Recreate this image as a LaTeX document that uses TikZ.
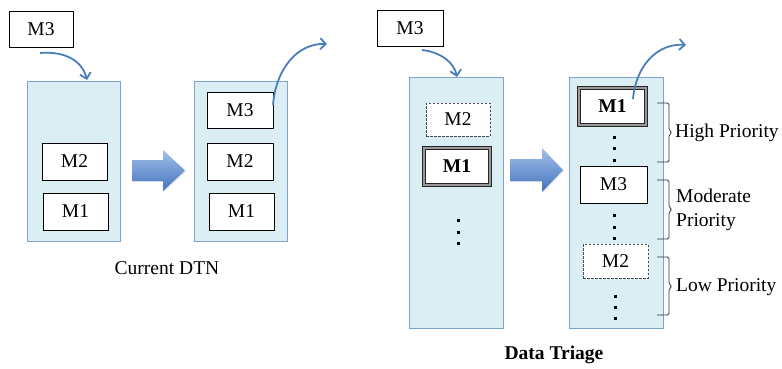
\documentclass[tikz,border=0pt]{standalone}
\usepackage{fontspec}
\setmainfont{Liberation Serif}
\usetikzlibrary{arrows.meta,shadows}
\definecolor{boxfill}{HTML}{DAEEF3}
\definecolor{boxline}{HTML}{7EA3CC}
\definecolor{arrowblue}{HTML}{4A7EBB}
\definecolor{bluetop}{HTML}{A3C1EA}
\definecolor{bluebot}{HTML}{4373BE}
\tikzset{
  every node/.style={font=\fontsize{19.5}{23}\selectfont},
  container/.style={draw=boxline, fill=boxfill, line width=0.8pt, inner sep=0pt,
    drop shadow={shadow xshift=1.2pt, shadow yshift=-1.2pt, opacity=0.25}},
  msg/.style={draw=black, fill=white, line width=0.7pt, inner sep=0pt},
  msgdash/.style={msg, draw=black!70, dashed, dash pattern=on 2.5pt off 1.5pt},
  msgbold/.style={msg, draw=black!85, line width=0.8pt, double=black!40, double distance=1.6pt, font=\fontsize{19.5}{23}\selectfont\bfseries},
  curvearrow/.style={draw=arrowblue, line width=1.8pt, -{Straight Barb[length=5.5pt,width=11pt]}},
  blockarrow/.style={top color=bluetop, bottom color=bluebot, draw=none,
    drop shadow={shadow xshift=1pt, shadow yshift=-1pt, opacity=0.2}},
  bracket/.style={draw=black!80, line width=0.8pt, rounded corners=1.5pt},
  dot/.style={fill=black}
}
\begin{document}
\begin{tikzpicture}[x=1pt,y=-1pt]
\useasboundingbox (0,0) rectangle (782,369);
% ---------- Current DTN ----------
\node[msg, minimum width=64pt, minimum height=36pt] (m3a) at (41,29) {M3};
\node[container, minimum width=93pt, minimum height=160pt] (c1) at (73.5,161) {};
\node[msg, minimum width=65pt, minimum height=37pt] (c1m2) at (74.5,161.5) {M2};
\node[msg, minimum width=65pt, minimum height=37pt] (c1m1) at (75.5,211.5) {M1};
\path[blockarrow] (132,160) -- (163,160) -- (163,150) -- (185,170.5) -- (163,191) -- (163,181) -- (132,181) -- cycle;
\node[container, minimum width=93pt, minimum height=160pt] (c2) at (240.5,161) {};
\node[msg, minimum width=66pt, minimum height=36pt] (c2m3) at (240,110) {M3};
\node[msg, minimum width=66pt, minimum height=37pt] (c2m2) at (240,161.5) {M2};
\node[msg, minimum width=65pt, minimum height=37pt] (c2m1) at (241.5,211.5) {M1};
\node (lab1) at (167,268) {Current DTN};
\coordinate (a1s) at (40,53);
\coordinate (a1e) at (87,80);
\draw[curvearrow] (a1s) .. controls (64,51) and (82,60) .. (a1e);
\coordinate (a2s) at (273,105);
\coordinate (a2e) at (327,44);
\draw[curvearrow] (a2s) .. controls (276,68) and (298,43) .. (a2e);
% ---------- Data Triage ----------
\node[msg, minimum width=66pt, minimum height=36pt] (m3b) at (410,28) {M3};
\node[container, minimum width=94pt, minimum height=251pt] (c3) at (456,202.5) {};
\node[msgdash, minimum width=64pt, minimum height=33pt] (c3m2) at (458,119.5) {M2};
\node[msgbold, minimum width=66pt, minimum height=37pt] (c3m1) at (457,166.5) {M1};
\foreach \y in {220,232,243} \fill[dot] (456.5,\y-1.5) rectangle ++(3,3);
\path[blockarrow] (510,159) -- (542,159) -- (542,148) -- (563,170) -- (542,192) -- (542,181) -- (510,181) -- cycle;
\node[container, minimum width=94pt, minimum height=251pt] (c4) at (616,202.5) {};
\node[msgbold, minimum width=67pt, minimum height=37pt] (c4m1) at (612.5,106.5) {M1};
\foreach \y in {137,148,160} \fill[dot] (612.5,\y-1.5) rectangle ++(3,3);
\node[msg, minimum width=67pt, minimum height=37pt] (c4m3) at (613.5,184.5) {M3};
\foreach \y in {215,227,238} \fill[dot] (612.5,\y-1.5) rectangle ++(3,3);
\node[msgdash, minimum width=65pt, minimum height=34pt] (c4m2) at (615.5,261) {M2};
\foreach \y in {296,307,318} \fill[dot] (613.5,\y-1.5) rectangle ++(3,3);
\coordinate (a3s) at (422,50);
\coordinate (a3e) at (457,77);
\draw[curvearrow] (a3s) .. controls (440,52) and (454,62) .. (a3e);
\coordinate (a4s) at (633,99);
\coordinate (a4e) at (686,45);
\draw[curvearrow] (a4s) .. controls (636,65) and (658,43) .. (a4e);
% brackets
\draw[bracket] (657,103) -| (669,130) -- (672,132.5) -- (669,135) |- (657,162);
\draw[bracket] (657,180) -| (669,207) -- (672,209.5) -- (669,212) |- (657,239);
\draw[bracket] (657,257) -| (669,284) -- (672,286.5) -- (669,289) |- (657,315);
\node[anchor=west, inner sep=0pt] (hp) at (675,133) {High Priority};
\node[anchor=west, inner sep=0pt, align=left, font=\fontsize{19.5}{24}\selectfont] (mp) at (676,210) {Moderate\\Priority};
\node[anchor=west, inner sep=0pt] (lp) at (676,287) {Low Priority};
\node[font=\fontsize{19.5}{23}\selectfont\bfseries] (lab2) at (554,355) {Data Triage};
\end{tikzpicture}
\end{document}
